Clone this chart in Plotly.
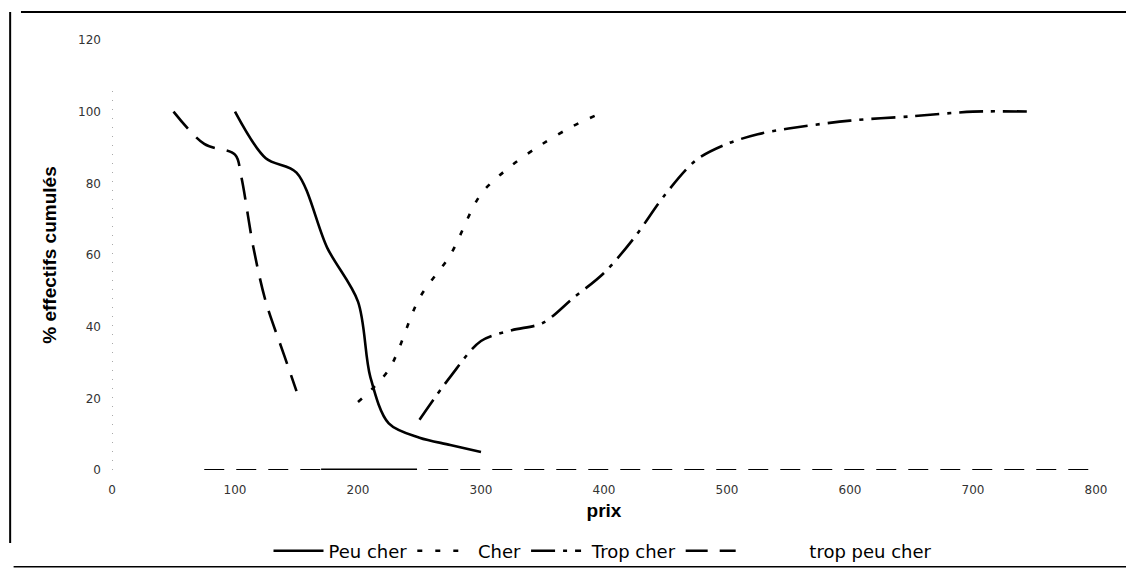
import plotly.graph_objects as go

# ---- data ----
peu_cher_x = [100, 125, 150, 175, 200, 210, 225, 250, 275, 300]
peu_cher_y = [100, 87, 83, 62, 47, 26, 13, 9, 7, 5]

cher_x = [200, 225, 250, 275, 300, 325, 350, 375, 400]
cher_y = [19, 28, 48, 60, 77, 85, 91, 96, 100]

trop_cher_x = [250, 275, 300, 325, 350, 375, 400, 425, 450, 475, 500, 525, 550, 600, 650, 700, 750]
trop_cher_y = [14, 26, 36, 39, 41, 48, 55, 65, 77, 86.5, 91, 93.7, 95.3, 97.5, 98.7, 100, 100]

trop_peu_cher_x = [50, 75, 100, 105, 115, 125, 140, 150]
trop_peu_cher_y = [100, 91, 88, 82, 62, 47, 32, 22]

series_names = ["Peu cher", "Cher", "Trop cher", "trop peu cher"]
x_ticks = [0, 100, 200, 300, 400, 500, 600, 700, 800]
y_ticks = [0, 20, 40, 60, 80, 100, 120]

FONT = "Arial, 'Liberation Sans', sans-serif"
WIDE = "'DejaVu Sans', Arial, sans-serif"
NB = "\u00a0"

fig = go.Figure()
series = [
    (series_names[0], peu_cher_x, peu_cher_y, "solid", 0),
    (series_names[1], cher_x, cher_y, "5px,13px", 1),
    (series_names[2], trop_cher_x, trop_cher_y, "24px,8px,4px,8px", 1),
    (series_names[3], trop_peu_cher_x, trop_peu_cher_y, "22px,12px", 12),
]
for name, xs, ys, dash, pad in series:
    fig.add_trace(go.Scatter(
        x=xs, y=ys, name=NB * pad + name, mode="lines",
        line=dict(color="black", width=2.6, dash=dash, shape="spline", smoothing=0.9),
    ))

fig.update_layout(
    width=1126, height=571,
    margin=dict(l=112, r=30, t=40, b=101, autoexpand=False),
    paper_bgcolor="white", plot_bgcolor="white",
    font=dict(family=FONT, color="black"),
    showlegend=True,
    legend=dict(orientation="h", x=603 / 1126, xanchor="center", xref="container",
                y=(571 - 551) / 571, yanchor="middle", yref="container",
                font=dict(size=18, family=WIDE), itemwidth=50, tracegroupgap=0,
                bgcolor="rgba(0,0,0,0)"),
    xaxis=dict(range=[0, 800], tickvals=x_ticks, showgrid=False, zeroline=False,
               showline=False, ticks="", automargin=False,
               tickfont=dict(size=12, color="#333", family=WIDE),
               ticklabelstandoff=11,
               title=dict(text="<b>prix</b>", font=dict(size=19), standoff=7)),
    yaxis=dict(range=[0, 120], tickvals=y_ticks, showgrid=False, zeroline=False,
               showline=False, ticks="", automargin=False,
               tickfont=dict(size=12, color="#333", family=WIDE),
               ticklabelstandoff=10,
               title=dict(text="<b>% effectifs cumulés</b>", font=dict(size=19), standoff=16)),
    shapes=[
        # dashed baseline (x axis as scanned)
        dict(type="line", xref="x", yref="y", x0=75, x1=800, y0=0, y1=0,
             line=dict(color="black", width=1.8, dash="20px,12px")),
        dict(type="line", xref="x", yref="y", x0=170, x1=248, y0=0, y1=0,
             line=dict(color="black", width=3)),
        # dotted y axis
        dict(type="line", xref="x", yref="y", x0=0, x1=0, y0=0, y1=108,
             line=dict(color="#555", width=1, dash="1px,8px")),
        # page frame
        dict(type="line", xref="paper", yref="paper", x0=-0.0925, x1=1.04, y0=1.065, y1=1.065,
             line=dict(color="black", width=2)),
        dict(type="line", xref="paper", yref="paper", x0=-0.1035, x1=-0.1035, y0=1.065, y1=-0.17,
             line=dict(color="black", width=2)),
        dict(type="line", xref="paper", yref="paper", x0=-0.1, x1=1.04, y0=-0.225, y1=-0.225,
             line=dict(color="black", width=1.5)),
    ],
)

fig.write_html("out.html")
